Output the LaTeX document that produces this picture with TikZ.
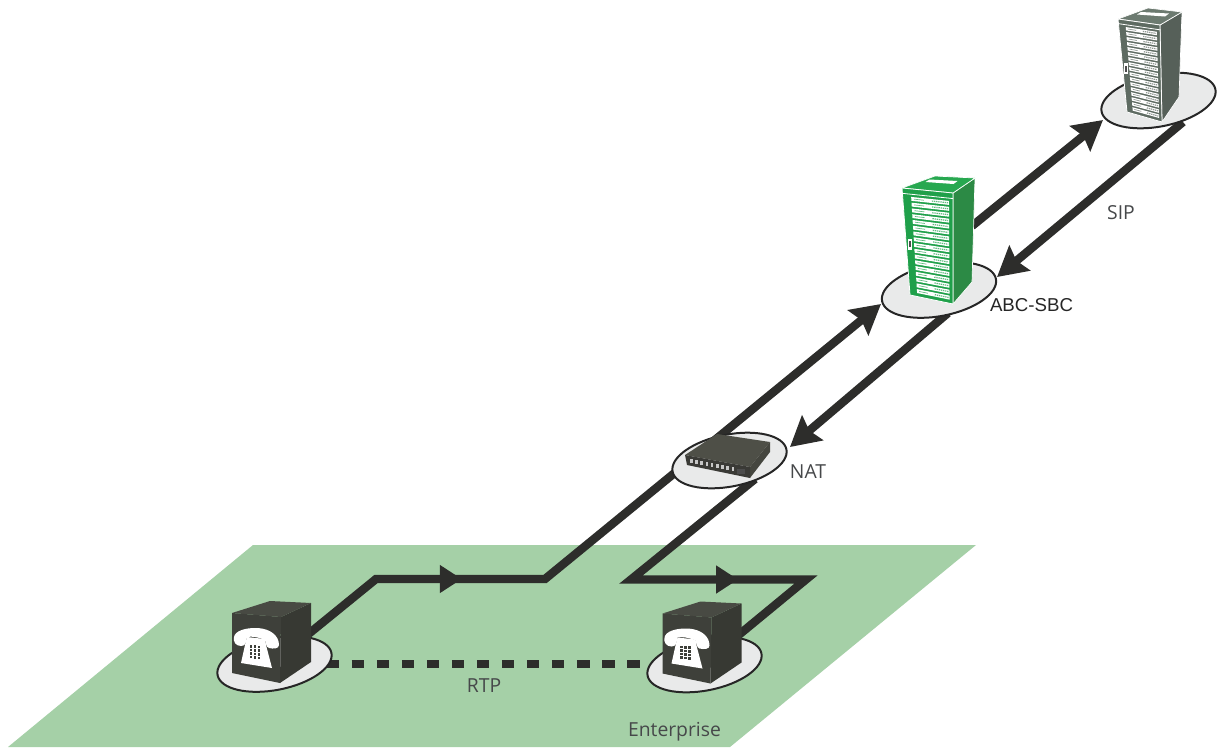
\documentclass[tikz,border=0pt]{standalone}
\usepackage{fontspec}
\setmainfont{Open Sans}
\newfontfamily\arialish{Liberation Sans}
\usetikzlibrary{shapes.geometric,arrows.meta,decorations.markings,calc}
\definecolor{plane}{HTML}{A5D0A7}
\definecolor{disc}{HTML}{E9EAEA}
\definecolor{lin}{HTML}{2D2D2B}
\definecolor{txt}{HTML}{46484A}
\definecolor{gA}{HTML}{1FA04A}\definecolor{gB}{HTML}{2C8A45}\definecolor{gC}{HTML}{27A850}
\definecolor{kA}{HTML}{5E6B62}\definecolor{kB}{HTML}{566059}\definecolor{kC}{HTML}{6C7A70}
\definecolor{cubeF}{HTML}{3E403A}\definecolor{cubeS}{HTML}{373933}\definecolor{cubeT}{HTML}{484A43}
\definecolor{natT}{HTML}{4E4F47}\definecolor{natF}{HTML}{3A3A36}\definecolor{natS}{HTML}{45463F}
\tikzset{
 discnode/.style={ellipse,draw=black!85,line width=1.5pt,fill=disc,inner sep=0pt,minimum width=87pt,minimum height=39pt,rotate=11},
 wire/.style={draw=lin,line width=6.3pt,miter limit=10},
 tip/.style={-{Stealth[length=22pt,width=24pt,inset=3pt]}},
 lab/.style={font=\fontsize{14.5}{17}\selectfont,text=txt,inner sep=0pt},
 midarrow/.style={postaction={decorate,decoration={markings,mark=at position #1 with {\arrow{Stealth[length=16.5pt,width=20pt,inset=0pt]}}}}},
}
\newcommand{\mytower}[3]{%
 \fill[#2,draw=white,line width=.5pt] (TF)--(RT)--(RB)--(BF)--cycle;
 \fill[#3,draw=white,line width=.5pt] (TL)--(BK)--(RT)--(TF)--cycle;
 \coordinate (SL) at ($(TL)!.5!(RT)$);
 \fill[white] ($(SL)+(-13,-1)$)--($(SL)+(-9,-3.5)$)--($(SL)+(19,-2)$)--($(SL)+(15,1)$)--cycle;
 \fill[#1,draw=white,line width=.6pt] (TL)--(TF)--(BF)--(BL)--cycle;
 \foreach \i in {0,...,16}{
  \pgfmathsetmacro{\ta}{.075+\i*.0535}
  \pgfmathsetmacro{\tb}{\ta+.036}
  \coordinate (a) at ($(TL)!\ta!(BL)$); \coordinate (b) at ($(TF)!\ta!(BF)$);
  \coordinate (c) at ($(TL)!\tb!(BL)$); \coordinate (d) at ($(TF)!\tb!(BF)$);
  \fill[white] ($(a)!.17!(b)$)--($(a)!.92!(b)$)--($(c)!.92!(d)$)--($(c)!.17!(d)$)--cycle;
  \coordinate (m) at ($(a)!.5!(c)$); \coordinate (n) at ($(b)!.5!(d)$);
  \draw[#1!70!white,line width=.9pt,dash pattern=on 1pt off .6pt] ($(m)!.58!(n)$)--($(m)!.9!(n)$);
  \draw[#1!70!white,line width=.5pt] ($(m)!.22!(n)$)--($(m)!.42!(n)$);
 }
 \draw[white,line width=.6pt] ($(TL)!.05!(BL)$)--($(TF)!.05!(BF)$);
 \coordinate (m) at ($(TL)!.47!(BL)$); \coordinate (n) at ($(TF)!.47!(BF)$);
 \coordinate (lt) at ($(m)!.04!(n)$);
 \fill[white] (lt) rectangle ++(4.5,11);
 \fill[black!70] ($(lt)+(1.5,2.5)$) rectangle ++(1.5,6);
}
\newcommand{\myphone}{%
 \fill[cubeS] (281,617)--(311,603)--(311,662)--(280,683)--cycle;
 \fill[cubeT] (232,613)--(270,601)--(311,603)--(281,617)--cycle;
 \fill[cubeF] (232,613)--(281,617)--(280,683)--(232,673)--cycle;
 % handset
 \fill[white] (234,637) .. controls (235,631) and (245,627.5) .. (258,628)
   .. controls (271,629) and (279,636) .. (279,645) .. controls (279,649) and (273,649) .. (269,648)
   .. controls (266,647) and (266,643) .. (265,640) .. controls (258,637) and (252,636) .. (247,637)
   .. controls (246,642) and (246,646) .. (241,646) .. controls (236,646) and (233,642) .. (234,637) -- cycle;
 % body
 \fill[white] (247,637)--(265,639)--(266,645)--(272,668)--(241,663)--(245,645)--cycle;
 \foreach \r in {0,1,2,3}\foreach \c in {0,1,2}{
  \fill[cubeF] ({249.5+\c*4},{645+\r*3.6+\c*.4}) rectangle ++(2.6,2.6);
 }
}
\begin{document}
\begin{tikzpicture}[x=.75pt,y=-.75pt]
\useasboundingbox (0,0) rectangle (1217,747);
\fill[plane] (253,545)--(976,545)--(730,747)--(8,747)--cycle;

\coordinate (c1) at (376,579);
\coordinate (c2) at (545,579);
\coordinate (e1) at (881,304);
\coordinate (s2) at (972,226);
\coordinate (e2) at (1103,120);
\coordinate (s3) at (1183,122);
\coordinate (e3) at (997,277);
\coordinate (s4) at (948,313);
\coordinate (e4) at (790,447);
\coordinate (s5) at (755,479);
\coordinate (c3) at (631,579.5);
\coordinate (c4) at (806,579.5);
\coordinate (pL) at (306,636);
\coordinate (pR) at (735,638);
\coordinate (dL) at (326.7,664);
\coordinate (dR) at (640,664);

\draw[wire,midarrow=132pt,tip] (pL)--(c1)--(c2)--(e1);
\draw[wire,tip] (s2)--(e2);
\draw[wire,tip] (s3)--(e3);
\draw[wire,tip] (s4)--(e4);
\draw[wire,midarrow=200pt] (s5)--(c3)--(c4)--(pR);
\draw[draw=lin,line width=6pt,dash pattern=on 9.4pt off 9.37pt] (dL)--(dR);

\node[discnode] (topdisc) at (1158.5,100.5) {};
\node[discnode] (sbcdisc) at (939,290) {};
\node[discnode] (natdisc) at (729.5,460.5) {};
\node[discnode] (phL) at (274.5,664) {};
\node[discnode] (phR) at (704.5,664.5) {};

\begin{scope}
 \coordinate (TL) at (1118,19);\coordinate (BK) at (1148,8);\coordinate (RT) at (1182,12);\coordinate (TF) at (1160,25);
 \coordinate (BL) at (1127,112);\coordinate (BF) at (1162,122);\coordinate (RB) at (1179,97);
 \mytower{kA}{kB}{kC}
\end{scope}
\begin{scope}
 \coordinate (TL) at (902,188);\coordinate (BK) at (935,176);\coordinate (RT) at (975,178);\coordinate (TF) at (953,193);
 \coordinate (BL) at (910,295);\coordinate (BF) at (953,304);\coordinate (RB) at (972,282);
 \mytower{gA}{gB}{gC}
\end{scope}

\fill[natS] (750,467)--(770,442)--(770,452)--(750,478)--cycle;
\fill[natT] (685,455)--(717,434)--(770,442)--(750,467)--cycle;
\fill[natF] (685,455)--(750,467)--(750,478)--(687,465)--cycle;
\foreach \i in {0,...,8}{
 \fill[gray!45!white] ({690+\i*5.2},{459+\i*1}) rectangle ++(2.5,3.5);
}
\fill[gray!60!black] (737,469) rectangle ++(8,5);

\myphone
\begin{scope}[shift={(430.5,.5)}]\myphone\end{scope}

\node[lab] (siplab) at (1121,213) {SIP};
\node[lab,text=black!85,font=\arialish\fontsize{14}{16}\selectfont] (sbclab) at (1031.5,305) {ABC-SBC};
\node[lab] (natlab) at (808,472) {NAT};
\node[lab] (rtplab) at (484,686) {RTP};
\node[lab] (entlab) at (674.5,732) {Enterprise};
\end{tikzpicture}
\end{document}
